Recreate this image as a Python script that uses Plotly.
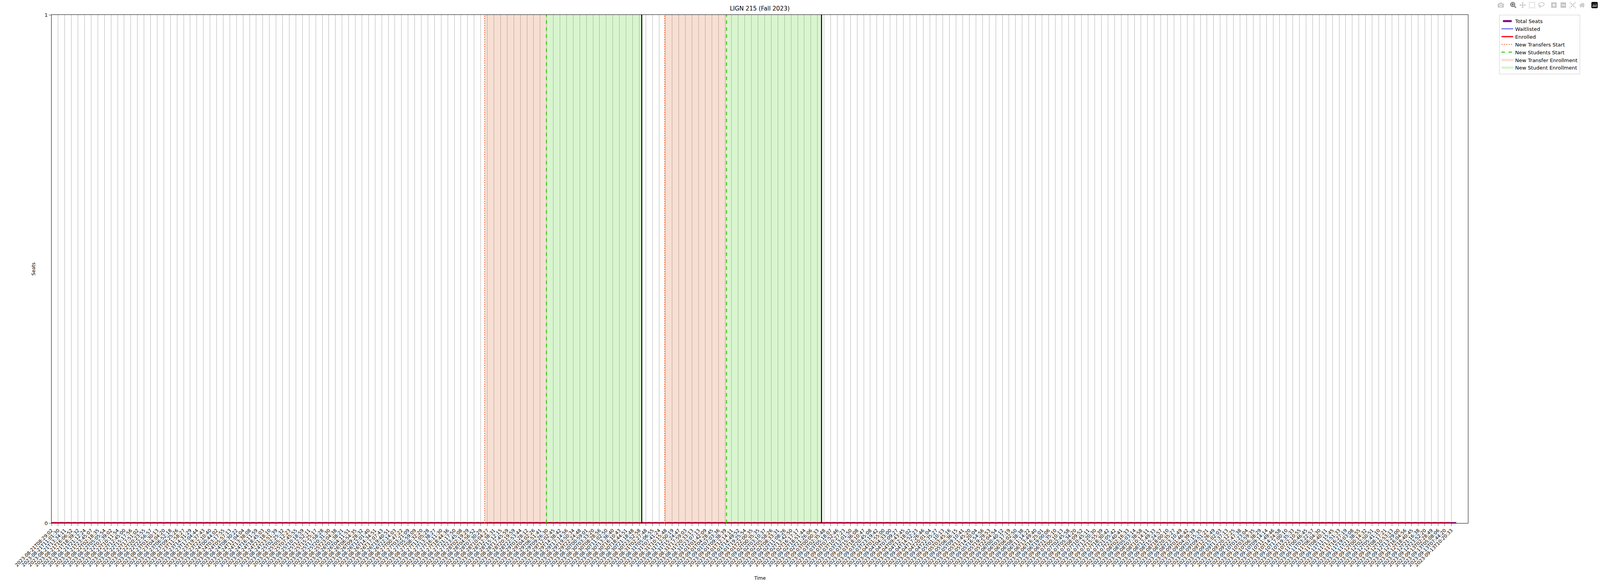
import plotly.graph_objects as go

time_labels = """2023-08-21T08:29:02 2023-08-21T11:01:30 2023-08-21T13:34:11 2023-08-21T16:06:52 2023-08-21T18:39:32 2023-08-21T21:12:24 2023-08-21T23:45:07
2023-08-22T02:18:35 2023-08-22T05:05:54 2023-08-22T07:39:02 2023-08-22T10:11:54 2023-08-22T12:45:00 2023-08-22T15:17:56 2023-08-22T17:51:02 2023-08-22T20:23:55 2023-08-22T22:56:57
2023-08-23T01:30:13 2023-08-23T04:04:20 2023-08-23T06:52:18 2023-08-23T09:25:26 2023-08-23T11:58:27 2023-08-23T14:31:29 2023-08-23T17:04:44 2023-08-23T19:37:43 2023-08-23T22:10:40
2023-08-24T00:44:02 2023-08-24T03:17:55 2023-08-24T05:57:13 2023-08-24T08:30:22 2023-08-24T11:04:04 2023-08-24T13:38:08 2023-08-24T16:11:59 2023-08-24T18:45:03 2023-08-24T21:18:10 2023-08-24T23:51:39
2023-08-25T02:25:32 2023-08-25T05:12:23 2023-08-25T07:45:55 2023-08-25T10:18:59 2023-08-25T12:52:11 2023-08-25T15:25:17 2023-08-25T17:58:28 2023-08-25T20:31:30 2023-08-25T23:04:38
2023-08-26T01:38:21 2023-08-26T04:11:51 2023-08-26T06:54:35 2023-08-26T09:28:32 2023-08-26T12:01:40 2023-08-26T14:34:51 2023-08-26T17:07:43 2023-08-26T19:40:51 2023-08-26T22:14:03
2023-08-27T00:47:22 2023-08-27T03:21:09 2023-08-27T05:59:09 2023-08-27T08:32:20 2023-08-27T11:05:28 2023-08-27T13:38:27 2023-08-27T16:11:30 2023-08-27T18:44:36 2023-08-27T21:17:50 2023-08-27T23:45:08
2023-08-28T02:19:29 2023-08-28T04:56:52 2023-08-28T07:30:29 2023-08-28T10:04:27 2023-08-28T12:38:31 2023-08-28T15:12:15 2023-08-28T17:45:59 2023-08-28T20:19:59 2023-08-28T22:53:44
2023-08-29T01:28:12 2023-08-29T04:02:26 2023-08-29T06:51:41 2023-08-29T09:26:30 2023-08-29T12:02:45 2023-08-29T14:38:42 2023-08-29T17:14:56 2023-08-29T19:50:34 2023-08-29T22:24:48
2023-08-30T00:59:01 2023-08-30T03:33:20 2023-08-30T08:28:56 2023-08-30T11:02:50 2023-08-30T13:36:40 2023-08-30T16:10:43 2023-08-30T18:44:51 2023-08-30T21:18:48 2023-08-30T23:52:58
2023-08-31T02:27:48 2023-08-31T05:06:55 2023-08-31T07:41:24 2023-08-31T10:15:48 2023-08-31T12:50:19 2023-08-31T15:24:47 2023-08-31T17:59:03 2023-08-31T20:33:13 2023-08-31T23:07:13
2023-09-01T01:42:09 2023-09-01T04:28:45 2023-09-01T07:03:36 2023-09-01T09:38:39 2023-09-01T12:14:11 2023-09-01T14:49:52 2023-09-01T19:25:54 2023-09-01T22:00:35
2023-09-02T00:35:35 2023-09-02T03:10:37 2023-09-02T05:58:26 2023-09-02T08:33:31 2023-09-02T11:08:26 2023-09-02T13:42:50 2023-09-02T16:17:17 2023-09-02T18:51:44 2023-09-02T21:26:06
2023-09-03T00:00:33 2023-09-03T02:35:48 2023-09-03T05:18:07 2023-09-03T07:52:46 2023-09-03T10:27:23 2023-09-03T13:01:50 2023-09-03T15:36:08 2023-09-03T18:10:47 2023-09-03T20:45:08 2023-09-03T23:19:42
2023-09-04T01:55:00 2023-09-04T04:33:00 2023-09-04T07:09:27 2023-09-04T09:43:45 2023-09-04T12:18:02 2023-09-04T14:52:23 2023-09-04T17:26:46 2023-09-04T20:01:04 2023-09-04T22:35:27
2023-09-05T01:10:13 2023-09-05T03:45:16 2023-09-05T06:36:15 2023-09-05T09:10:41 2023-09-05T11:45:20 2023-09-05T14:20:04 2023-09-05T16:54:56 2023-09-05T19:29:53 2023-09-05T22:04:54
2023-09-06T00:40:12 2023-09-06T03:17:19 2023-09-06T06:02:50 2023-09-06T08:38:38 2023-09-06T11:14:22 2023-09-06T13:49:40 2023-09-06T16:25:01 2023-09-06T19:00:06 2023-09-06T21:35:10
2023-09-07T00:10:13 2023-09-07T02:45:58 2023-09-07T05:34:20 2023-09-07T08:09:52 2023-09-07T10:45:11 2023-09-07T13:20:30 2023-09-07T15:55:39 2023-09-07T18:30:42 2023-09-07T21:05:42 2023-09-07T23:40:41
2023-09-08T02:16:33 2023-09-08T05:03:14 2023-09-08T07:38:58 2023-09-08T10:14:11 2023-09-08T12:49:33 2023-09-08T15:24:57 2023-09-08T18:00:10 2023-09-08T20:35:27 2023-09-08T23:10:49
2023-09-09T01:46:42 2023-09-09T04:39:39 2023-09-09T07:15:35 2023-09-09T09:51:21 2023-09-09T12:26:49 2023-09-09T15:02:03 2023-09-09T17:37:13 2023-09-09T20:12:25 2023-09-09T22:47:38
2023-09-10T01:23:04 2023-09-10T03:59:35 2023-09-10T06:38:29 2023-09-10T09:14:14 2023-09-10T11:49:46 2023-09-10T14:24:58 2023-09-10T17:00:10 2023-09-10T19:35:33 2023-09-10T22:10:55
2023-09-11T00:46:45 2023-09-11T03:22:57 2023-09-11T06:04:30 2023-09-11T08:40:11 2023-09-11T11:15:45 2023-09-11T13:51:33 2023-09-11T16:27:19 2023-09-11T19:03:08 2023-09-11T21:38:55
2023-09-12T00:14:32 2023-09-12T02:50:51 2023-09-12T05:41:10 2023-09-12T08:17:21 2023-09-12T10:53:13 2023-09-12T13:29:00 2023-09-12T16:04:56 2023-09-12T18:40:45 2023-09-12T21:16:38 2023-09-12T23:52:20
2023-09-13T02:28:49 2023-09-13T05:08:06 2023-09-13T07:44:20 2023-09-13T10:20:33""".split()

n = len(time_labels)
total_seats = [0] * n
waitlisted = [0] * n
enrolled = [0] * n

# period boundaries measured in the reference, converted to tick-index units
L_PX, LAST_PX = 131.7, 5597.0
def px2idx(p):
    return (p - L_PX) / (LAST_PX - L_PX) * (n - 1)

transfer_starts = [px2idx(1822.8), px2idx(2525.2)]
student_starts = [px2idx(2063.8), px2idx(2767.0)]
period_ends = [px2idx(2436.0), px2idx(3138.0)]
x_end = px2idx(5662.0)

xs = list(range(n))
fig = go.Figure()
FONT = "DejaVu Sans"

for k in range(2):
    a, b, c = transfer_starts[k], student_starts[k], period_ends[k]
    fig.add_trace(go.Scatter(x=[a, b, b, a, a], y=[0, 0, 1, 1, 0], fill="toself", mode="none",
                             fillcolor="rgba(215,95,40,0.2)", name="New Transfer Enrollment",
                             showlegend=(k == 0), legendrank=6))
    fig.add_trace(go.Scatter(x=[b, c, c, b, b], y=[0, 0, 1, 1, 0], fill="toself", mode="none",
                             fillcolor="rgba(65,205,20,0.2)", name="New Student Enrollment",
                             showlegend=(k == 0), legendrank=7))

fig.add_trace(go.Scatter(x=xs, y=total_seats, mode="markers", name="Total Seats",
                         marker=dict(symbol="line-ew", size=18, line=dict(color="purple", width=5)),
                         legendrank=1))
fig.add_trace(go.Scatter(x=xs, y=waitlisted, mode="lines", name="Waitlisted",
                         line=dict(color="blue", width=1.5), legendrank=2))
fig.add_trace(go.Scatter(x=xs, y=enrolled, mode="lines", name="Enrolled",
                         line=dict(color="red", width=3), legendrank=3))

for k in range(2):
    fig.add_trace(go.Scatter(x=[transfer_starts[k]] * 2, y=[0, 1], mode="lines", name="New Transfers Start",
                             line=dict(color="#f26b3a", width=2, dash="dot"), showlegend=(k == 0), legendrank=4))
    fig.add_trace(go.Scatter(x=[student_starts[k]] * 2, y=[0, 1], mode="lines", name="New Students Start",
                             line=dict(color="#3ec51c", width=2.5, dash="dash"), showlegend=(k == 0), legendrank=5))
    fig.add_trace(go.Scatter(x=[period_ends[k]] * 2, y=[0, 1], mode="lines", showlegend=False,
                             line=dict(color="black", width=2.5)))

fig.update_layout(
    autosize=True, plot_bgcolor="white", paper_bgcolor="white",
    margin=dict(l=132, r=338, t=38, b=161, autoexpand=False),
    font=dict(family=FONT, size=13, color="black"),
    title=dict(text="LIGN 215 (Fall 2023)", x=0.5, xref="paper", xanchor="center",
               y=1, yref="container", yanchor="top", pad=dict(t=16), font=dict(size=15)),
    legend=dict(x=1.022, y=1, xanchor="left", yanchor="top", bordercolor="#cccccc", borderwidth=1,
                font=dict(size=13), tracegroupgap=0),
    showlegend=True,
)
fig.update_xaxes(range=[0, x_end], tickvals=xs, ticktext=time_labels, tickangle=-45,
                 showgrid=True, gridcolor="#b0b0b0", gridwidth=1, ticks="outside", ticklen=6,
                 showline=True, linecolor="black", mirror=True, zeroline=False,
                 tickfont=dict(size=12))
fig.update_yaxes(range=[0, 1], tickvals=[0, 1], ticktext=["0", "1"], showgrid=False,
                 ticks="outside", ticklen=6, showline=True, linecolor="black", mirror=True,
                 zeroline=False, title=dict(text="Seats", font=dict(size=12), standoff=20))
fig.add_annotation(text="Time", x=0.5, y=-(1480 - 1339) / (1339 - 38), xref="paper", yref="paper",
                   showarrow=False, font=dict(size=12), xanchor="center", yanchor="middle")
fig.write_html("out.html", default_width="100vw", default_height="100vh",
               post_script="document.body.style.margin='0';document.body.style.overflow='hidden';")
